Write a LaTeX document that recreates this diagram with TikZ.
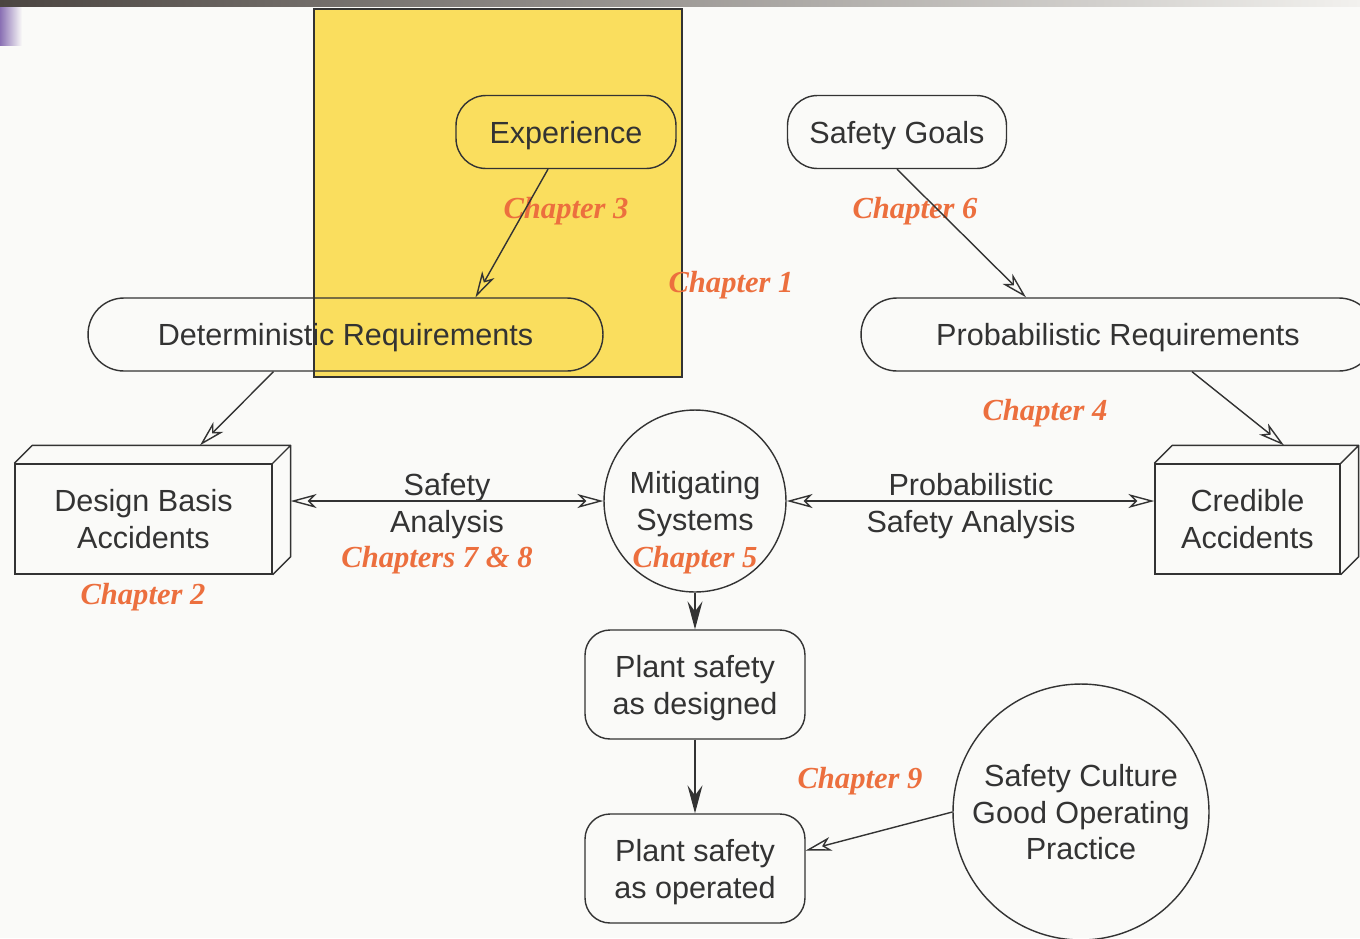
\documentclass[tikz,border=0pt]{standalone}
\usepackage{fontspec}
\setmainfont{Liberation Sans}
\newfontfamily\chapfont{Liberation Serif}
\usetikzlibrary{arrows.meta}
\definecolor{ink}{HTML}{333333}
\definecolor{chapcol}{HTML}{EC6F3E}
\definecolor{noteyellow}{HTML}{FADE5E}
\definecolor{paper}{HTML}{FAFAF8}
\definecolor{barleft}{HTML}{4B4541}
\definecolor{barright}{HTML}{F2F1EE}
\definecolor{tabpurple}{HTML}{8A70B4}
\tikzset{box/.style={draw=ink, line width=0.8pt, text=ink, align=center, inner sep=0pt,
	font=\fontsize{17.4}{21}\selectfont, text depth=0pt},
	roundbox/.style={box, rounded corners=#1}, roundbox/.default=0.6cm,
	roundcirc/.style={box, circle},
	chap/.style={text=chapcol, font=\chapfont\bfseries\itshape\fontsize{17.4}{21}\selectfont},
	plain/.style={text=ink, align=center, font=\fontsize{17.4}{21}\selectfont, text depth=0pt},
	openarr/.style={draw=ink, line width=0.8pt, -{Stealth[open, length=0.52cm, width=0.28cm, inset=0.14cm]}},
	openboth/.style={draw=ink, line width=0.8pt, {Stealth[open, length=0.52cm, width=0.28cm, inset=0.14cm]}-{Stealth[open, length=0.52cm, width=0.28cm, inset=0.14cm]}},
	fillarr/.style={draw=ink, line width=0.8pt, -{Stealth[length=0.56cm, width=0.3cm, inset=0.2cm]}}}

\begin{document}
\begin{tikzpicture}[x=0.02cm, y=-0.02cm]
	\useasboundingbox (0,0) rectangle (1360,938);
	\fill[paper] (0,0) rectangle (1360,938);
	\shade[left color=barleft, right color=barright] (0,0) rectangle (1360,6);
	\shade[left color=tabpurple, right color=paper] (0,7) rectangle (22,45);
	% yellow note behind the top left
	\draw[ink, line width=0.8pt, fill=noteyellow] (314,9) rectangle (682,377);

	\node[roundbox, minimum width=4.4cm, minimum height=1.46cm] (exp) at (566,132) {Experience};
	\node[roundbox, minimum width=4.38cm, minimum height=1.46cm] (goals) at (897,132) {Safety Goals};
	\node[roundbox=0.72cm, minimum width=10.3cm, minimum height=1.46cm] (det) at (345.5,334.5) {Deterministic Requirements};
	\node[roundbox=0.72cm, minimum width=10.28cm, minimum height=1.46cm] (prob) at (1118,334.5) {Probabilistic Requirements};

	% boxes drawn as blocks
	\node[box, minimum width=5.14cm, minimum height=2.2cm] (dba) at (143.5,519) {Design Basis\\Accidents};
	\draw[ink, line width=0.8pt, line join=round] (dba.north west) -- ++(18,-18) -- ([shift={(18,-18)}]dba.north east)
		-- ([shift={(18,-18)}]dba.south east) -- (dba.south east) (dba.north east) -- ++(18,-18);
	\node[box, minimum width=3.7cm, minimum height=2.2cm] (cred) at (1247.5,519) {Credible\\Accidents};
	\draw[ink, line width=0.8pt, line join=round] (cred.north west) -- ++(18,-18) -- ([shift={(18,-18)}]cred.north east)
		-- ([shift={(18,-18)}]cred.south east) -- (cred.south east) (cred.north east) -- ++(18,-18);
	\coordinate (dbaside) at ([shift={(18,0)}]dba.east);

	\node[roundcirc, minimum size=3.64cm] (mit) at (695,501) {Mitigating\\Systems};
	\node[roundbox=0.5cm, minimum width=4.4cm, minimum height=2.18cm] (designed) at (695,684.5) {Plant safety\\as designed};
	\node[roundbox=0.5cm, minimum width=4.4cm, minimum height=2.18cm] (operated) at (695,868.5) {Plant safety\\as operated};
	\node[roundcirc, minimum size=5.12cm] (culture) at (1081,812) {Safety Culture\\Good Operating\\Practice};

	\node[plain] (sa) at (447,502.5) {Safety\\Analysis};
	\node[plain] (psa) at (971,502.5) {Probabilistic\\Safety Analysis};

	\node[chap] (ch3) at (566,211) {Chapter 3};
	\node[chap] (ch6) at (915,211) {Chapter 6};
	\node[chap] (ch1) at (731,285) {Chapter 1};
	\node[chap] (ch4) at (1045,413) {Chapter 4};
	\node[chap] (ch2) at (143,597) {Chapter 2};
	\node[chap] (ch78) at (437,560) {Chapters 7 \& 8};
	\node[chap] (ch5) at (695,560) {Chapter 5};
	\node[chap] (ch9) at (860,781) {Chapter 9};

	\draw[openarr] ([shift={(-18,0)}]exp.south) -- ([shift={(130,0)}]det.north);
	\draw[openarr] (goals.south) -- ([shift={(-92,0)}]prob.north);
	\draw[openarr] ([shift={(-72,0)}]det.south) -- ([shift={(56.5,-18)}]dba.north);
	\draw[openarr] ([shift={(74,0)}]prob.south) -- ([shift={(36.5,-18)}]cred.north);
	\draw[openboth] (mit.west -| dbaside) -- (mit.west);
	\draw[openboth] (mit.east) -- (mit.east -| cred.west);
	\draw[fillarr] (mit.south) -- (designed.north);
	\draw[fillarr] (designed.south) -- (operated.north);
	\draw[openarr] (culture.west) -- ([shift={(0,-18)}]operated.east);
\end{tikzpicture}
\end{document}
